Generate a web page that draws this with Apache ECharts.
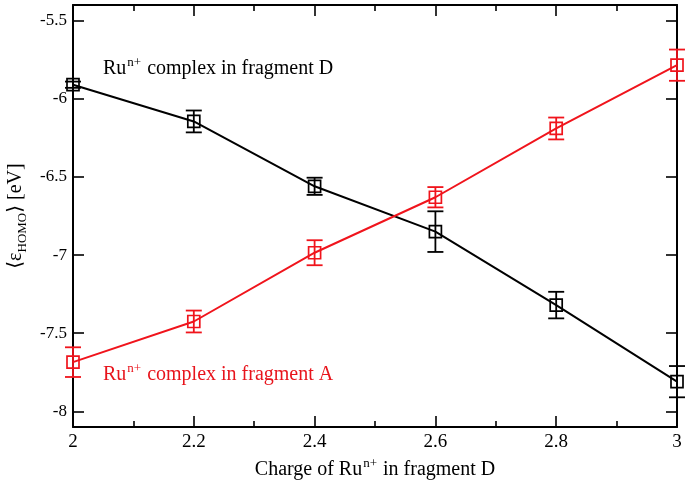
<!DOCTYPE html>
<html><head><meta charset="utf-8">
<script src="https://cdn.jsdelivr.net/npm/echarts@6/dist/echarts.min.js"></script>
<style>html,body{margin:0;padding:0;background:#fff}#c{width:690px;height:486px}</style>
</head><body><div id="c"></div>
<script>
var charges = [2, 2.2, 2.4, 2.6, 2.8, 3];
var fragD = [-5.91, -6.145, -6.56, -6.85, -7.32, -7.81];
var fragDErr = [0.02, 0.07, 0.055, 0.13, 0.085, 0.1];
var fragA = [-7.685, -7.425, -6.985, -6.63, -6.19, -5.785];
var fragAErr = [0.095, 0.07, 0.08, 0.065, 0.07, 0.1];
var yTicks = [-8, -7.5, -7, -6.5, -6, -5.5];

var SERIF = '"Liberation Serif","DejaVu Serif",serif';

function pts(ys) { return charges.map(function (x, i) { return [x, ys[i]]; }); }
function errData(ys, es) { return charges.map(function (x, i) { return [x, ys[i] - es[i], ys[i] + es[i]]; }); }

function errSeries(ys, es, color) {
  return {
    type: 'custom', xAxisIndex: 0, yAxisIndex: 0, z: 3,
    data: errData(ys, es),
    renderItem: function (params, api) {
      var x = api.value(0);
      var lo = api.coord([x, api.value(1)]);
      var hi = api.coord([x, api.value(2)]);
      var w = 8;
      var st = { stroke: color, lineWidth: 1.8 };
      return { type: 'group', children: [
        { type: 'line', shape: { x1: lo[0], y1: lo[1], x2: hi[0], y2: hi[1] }, style: st },
        { type: 'line', shape: { x1: lo[0] - w, y1: lo[1], x2: lo[0] + w, y2: lo[1] }, style: st },
        { type: 'line', shape: { x1: hi[0] - w, y1: hi[1], x2: hi[0] + w, y2: hi[1] }, style: st }
      ]};
    }
  };
}
function lineSeries(ys, color) {
  return {
    type: 'line', xAxisIndex: 0, yAxisIndex: 0, z: 4,
    data: pts(ys), symbol: 'rect', symbolSize: 12,
    lineStyle: { color: color, width: 2 },
    itemStyle: { color: 'rgba(255,255,255,0)', borderColor: color, borderWidth: 1.7 },
    emphasis: { disabled: true }, animation: false
  };
}

var axLine = { show: true, onZero: false, lineStyle: { color: '#000', width: 2 } };
var supStyle = function (c) { return { fill: c, color: c, fontFamily: SERIF, fontSize: 13, verticalAlign: 'top', lineHeight: 26, padding: [0, 1, 11, 1] }; };
var chart = echarts.init(document.getElementById('c'));
chart.setOption({
  animation: false,
  grid: { left: 73, right: 13, top: 5, bottom: 59, containLabel: false, outerBoundsMode: 'none' },
  xAxis: [{
    type: 'value', min: 2, max: 3, interval: 0.2, position: 'bottom',
    axisLine: axLine,
    axisTick: { inside: true, length: 11, lineStyle: { color: '#000', width: 1.6 } },
    minorTick: { show: true, splitNumber: 2, length: 6, lineStyle: { color: '#000', width: 1.6 } },
    splitLine: { show: false },
    axisLabel: { color: '#000', fontFamily: SERIF, fontSize: 19, margin: 6 },
    name: 'Charge of Ru{sup|n+} in fragment D',
    nameLocation: 'middle', nameGap: 28,
    nameTextStyle: { color: '#000', fontFamily: SERIF, fontSize: 20, lineHeight: 26,
      rich: { sup: supStyle('#000') } }
  }, {
    type: 'value', min: 2, max: 3, interval: 0.2, position: 'top',
    axisLine: axLine,
    axisTick: { inside: true, length: 11, lineStyle: { color: '#000', width: 1.6 } },
    minorTick: { show: true, splitNumber: 2, length: 6, lineStyle: { color: '#000', width: 1.6 } },
    splitLine: { show: false }, axisLabel: { show: false }
  }],
  yAxis: [{
    type: 'value', min: -8.1, max: -5.4, position: 'left',
    axisLine: axLine,
    axisTick: { inside: true, length: 11, customValues: yTicks, lineStyle: { color: '#000', width: 1.6 } },
    splitLine: { show: false },
    axisLabel: { color: '#000', fontFamily: SERIF, fontSize: 17, margin: 6, customValues: yTicks },
    name: '⟨ε{sub|HOMO}⟩ [eV]',
    nameLocation: 'middle', nameGap: 44, nameRotate: 90,
    nameTextStyle: { color: '#000', fontFamily: SERIF, fontSize: 20, lineHeight: 26,
      rich: { sub: { fontFamily: SERIF, fontSize: 13, verticalAlign: 'bottom', lineHeight: 26, padding: [9, 0, 0, 0] } } }
  }, {
    type: 'value', min: -8.1, max: -5.4, position: 'right',
    axisLine: axLine,
    axisTick: { inside: true, length: 11, customValues: yTicks, lineStyle: { color: '#000', width: 1.6 } },
    splitLine: { show: false }, axisLabel: { show: false }
  }],
  graphic: [
    { type: 'text', left: 103, top: 56, z: 10,
      style: { text: 'Ru{sup|n+} complex in fragment D', fill: '#000', font: '20px ' + SERIF, lineHeight: 26,
        rich: { sup: supStyle('#000') } } },
    { type: 'text', left: 103, top: 362, z: 10,
      style: { text: 'Ru{sup|n+} complex in fragment A', fill: '#e8141c', font: '20px ' + SERIF, lineHeight: 26,
        rich: { sup: supStyle('#e8141c') } } }
  ],
  series: [
    errSeries(fragD, fragDErr, '#000'),
    errSeries(fragA, fragAErr, '#f0141c'),
    lineSeries(fragD, '#000'),
    lineSeries(fragA, '#f0141c')
  ]
});
</script></body></html>
